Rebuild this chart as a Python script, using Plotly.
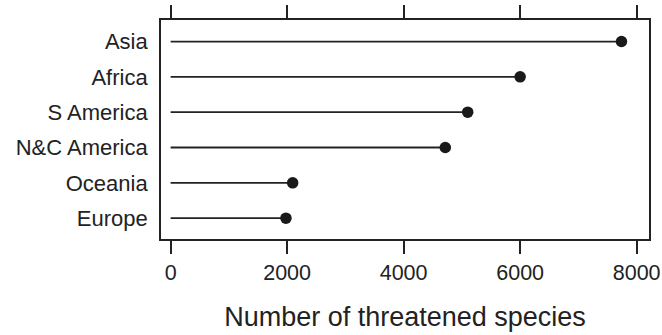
import plotly.graph_objects as go

regions = ["Europe", "Oceania", "N&C America", "S America", "Africa", "Asia"]
threatened = [1980, 2095, 4715, 5100, 6000, 7740]
x_ticks = [0, 2000, 4000, 6000, 8000]
x_title = "Number of threatened species"

line_x, line_y = [], []
for r, v in zip(regions, threatened):
    line_x += [0, v, None]
    line_y += [r, r, None]

ink = "#222222"
font_family = "Liberation Sans, Arial, Helvetica, sans-serif"

fig = go.Figure()
fig.add_trace(go.Scatter(x=line_x, y=line_y, mode="lines",
                         line=dict(color=ink, width=1.8), hoverinfo="skip",
                         showlegend=False))
fig.add_trace(go.Scatter(x=threatened, y=regions, mode="markers",
                         marker=dict(color="#1a1a1a", size=11.5),
                         showlegend=False))

fig.update_layout(
    width=662, height=335,
    margin=dict(l=161, r=13, t=20, b=96),
    paper_bgcolor="white", plot_bgcolor="white",
    font=dict(family=font_family, color="#222222", size=21.5),
)
fig.update_xaxes(
    range=[-165, 8212], tickvals=x_ticks, ticktext=[str(t) for t in x_ticks],
    showgrid=False, zeroline=False, automargin=False,
    showline=True, linecolor=ink, linewidth=1.8, mirror="allticks",
    ticks="outside", ticklen=13, tickwidth=1.5, tickcolor=ink,
    tickfont=dict(size=21.5),
    title=dict(text=x_title, font=dict(size=27), standoff=23),
)
fig.update_yaxes(
    type="category", categoryorder="array", categoryarray=regions,
    range=[-0.59, 5.61], automargin=False,
    showgrid=False, zeroline=False,
    showline=True, linecolor=ink, linewidth=1.8, mirror=True,
    ticks="", tickfont=dict(size=22), ticklabelstandoff=7,
)

fig.write_html("out.html")
